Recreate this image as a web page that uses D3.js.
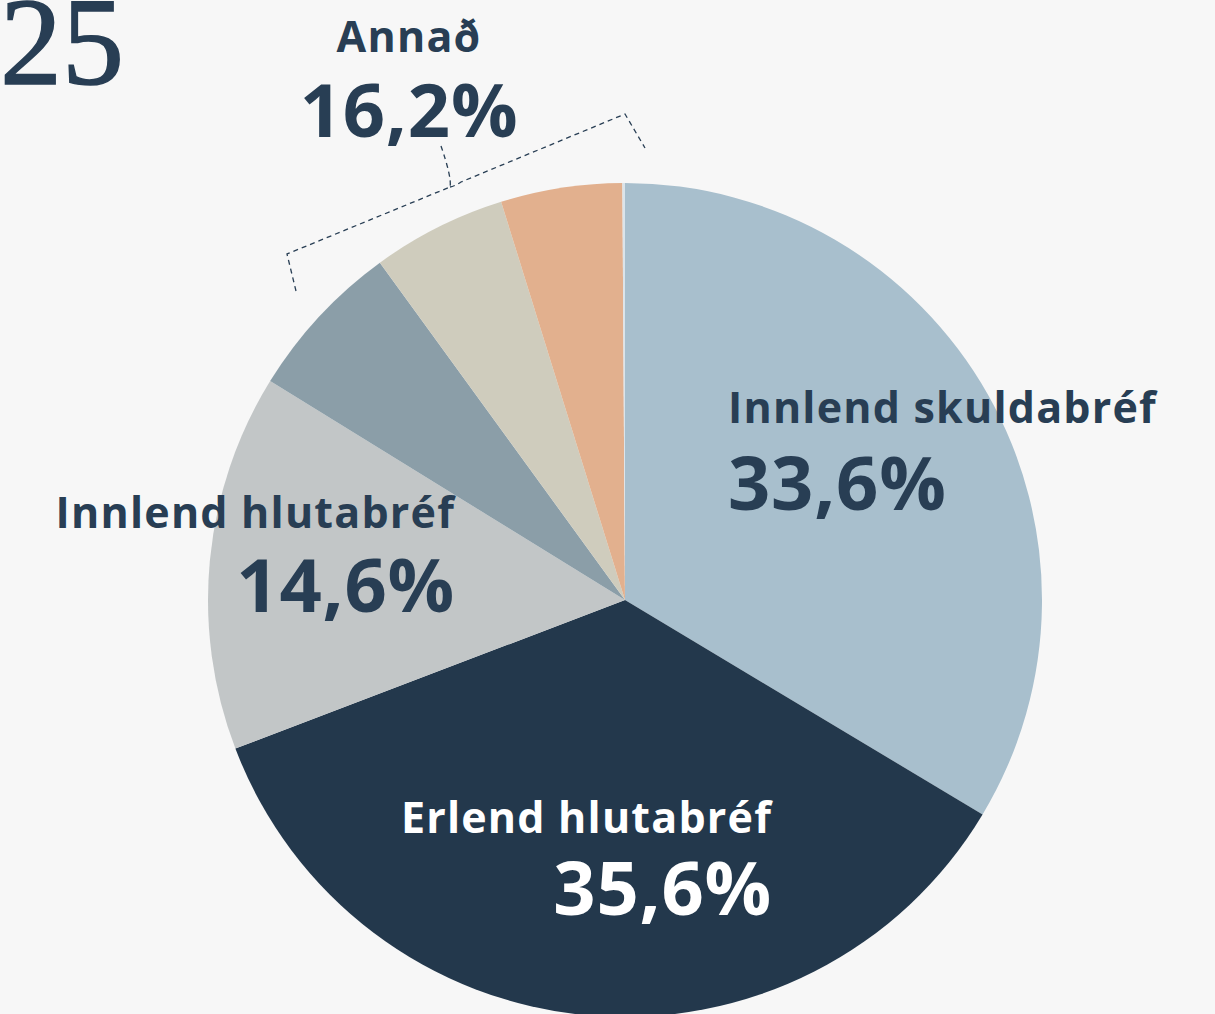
<!DOCTYPE html>
<html>
<head>
<meta charset="utf-8">
<script src="https://cdn.jsdelivr.net/npm/d3@7"></script>
<style>
  html, body { margin: 0; padding: 0; background: #f7f7f7; }
  svg { display: block; }
</style>
</head>
<body>
<svg id="chart" width="1215" height="1014"></svg>
<script>
// Data
const categories = ["Innlend skuldabréf", "Erlend hlutabréf", "Innlend hlutabréf", "Annað A", "Annað B", "Annað C", "Annað D"];
const values = [33.6, 35.6, 14.6, 6.2, 5.2, 4.7, 0.1];
const colors = ["#a8bfcd", "#23384c", "#c2c6c7", "#8b9ea8", "#cfccbd", "#e2b08e", "#dbe4ea"];
const labelNames = ["Innlend skuldabréf", "Erlend hlutabréf", "Innlend hlutabréf", "Annað"];
const labelValues = ["33,6%", "35,6%", "14,6%", "16,2%"];
const yearLabel = "2025";

const svg = d3.select("#chart");
const W = 1215, H = 1014;
svg.append("rect").attr("width", W).attr("height", H).attr("fill", "#f7f7f7");

const cx = 625, cy = 600, R = 417;
const g = svg.append("g").attr("transform", `translate(${cx},${cy})`);

const pie = d3.pie().sort(null).value(d => d.v);
const arcs = pie(values.map((v, i) => ({ v, i })));
const arc = d3.arc().innerRadius(0).outerRadius(R);

g.selectAll("path.slice").data(arcs).join("path")
  .attr("class", "slice")
  .attr("d", arc)
  .attr("fill", d => colors[d.data.i]);

// Year
svg.append("text")
  .attr("x", 124).attr("y", 84)
  .attr("text-anchor", "end")
  .attr("font-family", "Liberation Serif, serif")
  .attr("font-size", 124)
  .attr("fill", "#283e54")
  .attr("stroke", "#283e54")
  .attr("stroke-width", 1.5)
  .text(yearLabel);

const navy = "#283e54";
const font = "'Open Sans', sans-serif";

function label(x, yName, yVal, anchor, name, val, fill) {
  svg.append("text").attr("x", x).attr("y", yName).attr("text-anchor", anchor)
    .attr("font-family", font).attr("font-weight", 700).attr("font-size", 43)
    .attr("letter-spacing", 1.2)
    .attr("fill", fill).text(name);
  svg.append("text").attr("x", x).attr("y", yVal).attr("text-anchor", anchor)
    .attr("font-family", font).attr("font-weight", 700).attr("font-size", 74)
    .attr("letter-spacing", 0.8)
    .attr("fill", fill).text(val);
}

label(728, 423, 510, "start", labelNames[0], labelValues[0], navy);
label(772, 833, 915, "end", labelNames[1], labelValues[1], "#ffffff");
label(455, 528, 612, "end", labelNames[2], labelValues[2], navy);
label(409, 52, 137, "middle", labelNames[3], labelValues[3], navy);

// Bracket for "Annað"
svg.append("path")
  .attr("d", "M296,291 L287,254 L450,187 Q452,178 441,146 M450,187 Q455,186 461,182 L625,114 L645,148")
  .attr("fill", "none")
  .attr("stroke", "#283e54")
  .attr("stroke-width", 1.3)
  .attr("stroke-dasharray", "5,4");
</script>
</body>
</html>
